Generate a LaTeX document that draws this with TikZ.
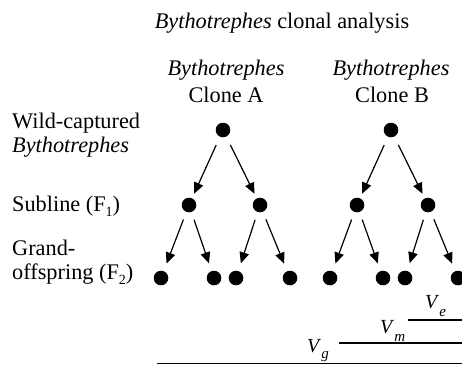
\documentclass[tikz,border=0pt]{standalone}
\usepackage{fontspec}
\setmainfont{Liberation Serif}
\usetikzlibrary{arrows.meta}

% lowered subscript: drop, size, text
\newcommand\dropsub[3]{\raisebox{-#1}{\fontsize{#2}{#2}\selectfont #3}}

\tikzset{
  ind/.style={circle,fill=black,inner sep=0pt,minimum size=14.6pt},
  lbl/.style={anchor=base west,inner sep=0pt,font=\fontsize{22.3}{27}\selectfont},
  hd/.style={anchor=base,inner sep=0pt,font=\fontsize{22.3}{27}\selectfont},
  gen/.style={-{Triangle[length=11pt,width=9.5pt]},line width=1.2pt,shorten <=9pt,shorten >=5pt},
  gentwo/.style={gen,shorten <=8pt,shorten >=8pt},
  varline/.style={line width=1.1pt},
  vlbl/.style={anchor=base west,inner sep=0pt,font=\fontsize{20}{24}\selectfont}
}

\begin{document}
\begin{tikzpicture}[x=1pt,y=-1pt]
\clip (0,0) rectangle (462,365);
\useasboundingbox (0,0) rectangle (462,365);

% Title
\node[hd] (title) at (282,28) {\textit{Bythotrephes} clonal analysis};

% Column heads
\node[hd] (headA) at (226,75) {\textit{Bythotrephes}};
\node[hd] (cloneA) at (226,102) {Clone A};
\node[hd] (headB) at (391,75) {\textit{Bythotrephes}};
\node[hd] (cloneB) at (392,102) {Clone B};

% Row labels
\node[lbl] (wild) at (12,128) {Wild-captured};
\node[lbl] (wildsp) at (12,152) {\textit{Bythotrephes}};
\node[lbl] (sub) at (12,211) {Subline (F\dropsub{5pt}{14}{1})};
\node[lbl] (grand) at (12,255) {Grand-};
\node[lbl] (offs) at (12,279) {offspring (F\dropsub{5pt}{14}{2})};

% Wild-captured mothers
\node[ind] (A) at (223,130) {};
\node[ind] (B) at (391,130) {};

% Sublines (F1)
\node[ind] (A1) at (189,205) {};
\node[ind] (A2) at (260,205) {};
\node[ind] (B1) at (357,205) {};
\node[ind] (B2) at (428,205) {};

% Grand-offspring (F2)
\node[ind] (A1a) at (161,278) {};
\node[ind] (A1b) at (214,278) {};
\node[ind] (A2a) at (236,278) {};
\node[ind] (A2b) at (290,278) {};
\node[ind] (B1a) at (330,278) {};
\node[ind] (B1b) at (383,278) {};
\node[ind] (B2a) at (405,278) {};
\node[ind] (B2b) at (458,278) {};

% Arrows
\draw[gen] (A) -- (A1);
\draw[gen] (A) -- (A2);
\draw[gen] (B) -- (B1);
\draw[gen] (B) -- (B2);
\draw[gentwo] (A1) -- (A1a);
\draw[gentwo] (A1) -- (A1b);
\draw[gentwo] (A2) -- (A2a);
\draw[gentwo] (A2) -- (A2b);
\draw[gentwo] (B1) -- (B1a);
\draw[gentwo] (B1) -- (B1b);
\draw[gentwo] (B2) -- (B2a);
\draw[gentwo] (B2) -- (B2b);

% Variance components
\coordinate (ve0) at (408,320);
\coordinate (ve1) at (465,320);
\coordinate (vm0) at (339,343);
\coordinate (vm1) at (465,343);
\coordinate (vg0) at (157,363.5);
\coordinate (vg1) at (465,363.5);
\draw[varline] (ve0) -- (ve1);
\draw[varline] (vm0) -- (vm1);
\draw[varline] (vg0) -- (vg1);
\node[vlbl] (ve) at (425,308) {\textit{V}\dropsub{8pt}{15}{\textit{e}}};
\node[vlbl] (vm) at (380,333) {\textit{V}\dropsub{8pt}{15}{\textit{m}}};
\node[vlbl] (vg) at (307,352) {\textit{V}\dropsub{6pt}{15}{\textit{g}}};
\end{tikzpicture}
\end{document}
